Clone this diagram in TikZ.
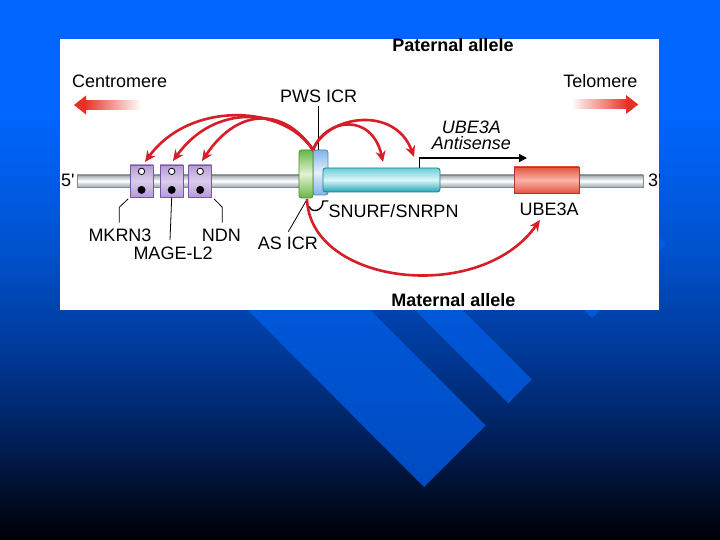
\documentclass[tikz,border=0pt]{standalone}
\usepackage{fontspec}
\setmainfont{Liberation Sans}
\usetikzlibrary{arrows.meta}
\definecolor{bgK}{RGB}{0,0,6}
\definecolor{bg4}{RGB}{0,28,80}
\definecolor{bg3}{RGB}{0,55,148}
\definecolor{bg2}{RGB}{0,82,205}
\definecolor{bg1}{RGB}{0,102,255}
\definecolor{bandtop}{RGB}{0,96,232}
\definecolor{bandbot}{RGB}{0,74,192}
\definecolor{arcred}{RGB}{215,30,40}
\definecolor{cenred}{RGB}{232,48,36}
\definecolor{purp}{RGB}{180,155,212}
\definecolor{purplight}{RGB}{218,204,236}
\definecolor{purpdark}{RGB}{120,88,160}
\definecolor{greenc}{RGB}{105,182,70}
\definecolor{greenlight}{RGB}{228,242,212}
\definecolor{greendark}{RGB}{70,140,50}
\definecolor{bluec}{RGB}{130,180,230}
\definecolor{bluelight}{RGB}{228,240,252}
\definecolor{bluedark}{RGB}{70,130,200}
\definecolor{tealtop}{RGB}{110,205,215}
\definecolor{tealc}{RGB}{30,165,180}
\definecolor{teallight}{RGB}{220,246,248}
\definecolor{tealdark}{RGB}{20,130,145}
\definecolor{redc}{RGB}{228,84,68}
\definecolor{redlight}{RGB}{250,180,165}
\definecolor{reddark}{RGB}{185,50,40}
\definecolor{barc}{RGB}{160,168,176}
\definecolor{bardark}{RGB}{130,138,146}
\pgfdeclareverticalshading{bgshade}{100bp}{color(0bp)=(bgK); color(25bp)=(bgK); color(28.7bp)=(bgK!60!bg4); color(33.3bp)=(bg4); color(41.7bp)=(bg3); color(51.9bp)=(bg2); color(64.8bp)=(bg1); color(100bp)=(bg1)}
\begin{document}
\begin{tikzpicture}[x=1pt,y=-1pt,
  txt/.style={inner sep=0pt, font=\fontsize{18}{20}\selectfont},
  btxt/.style={inner sep=0pt, font=\fontsize{18}{20}\selectfont\bfseries},
  itxt/.style={inner sep=0pt, font=\fontsize{18}{20}\selectfont\itshape},
  lead/.style={draw=black, line width=0.8pt},
  redarc/.style={draw=arcred, line width=2.6pt, -{Stealth[length=11pt,width=10pt]}},
  pbox/.style={draw=purpdark, line width=0.8pt, top color=purp, bottom color=purp, middle color=purplight, minimum width=23pt, minimum height=32pt, inner sep=0pt},
  genebox/.style={line width=0.8pt, inner sep=0pt, rounded corners=2.5pt}
]
\useasboundingbox (0,0) rectangle (720,540);
% background
\shade[shading=bgshade] (0,0) rectangle (720,540);
\path[top color=bandtop, bottom color=bandbot]
  (138,200) -- (260,200) -- (485.5,425.5) -- (424,487) -- cycle
  (305,200) -- (352,200) -- (531.7,379.3) -- (508.3,403.3) -- cycle
  (474,200) -- (622,200) -- (666,244) -- (592,318) -- cycle;
% panel
\fill[white] (60,39) rectangle (659,310);

% chromosome bar
\path[top color=barc, bottom color=barc, middle color=white, draw=bardark, line width=0.3pt] (77,175) rectangle (643,187);

% purple genes
\node[pbox] (mkrn) at (141.5,181) {};
\node[pbox] (mage) at (171.7,181) {};
\node[pbox] (ndn) at (200.2,181) {};
\foreach \g in {mkrn,mage,ndn}{
  \draw[fill=white, line width=0.8pt] (\g.north) ++(0,6.8) circle (3.2);
  \fill[black] (\g.south) ++(0,-7.5) circle (4);
}

% ICR and genes
\node[genebox, draw=bluedark, top color=bluec, bottom color=bluec, middle color=bluelight, minimum width=15pt, minimum height=45pt] (pws) at (320.5,172.5) {};
\node[genebox, draw=tealdark, top color=tealtop, bottom color=tealc, middle color=teallight, minimum width=117pt, minimum height=24pt] (snrpn) at (381.5,180) {};
\node[genebox, draw=greendark, top color=greenc, bottom color=greenc, middle color=greenlight, minimum width=14pt, minimum height=48pt] (asicr) at (306,174) {};
\node[draw=reddark, line width=0.8pt, inner sep=0pt, top color=redc, bottom color=redc, middle color=redlight, minimum width=65pt, minimum height=26pt] (ube) at (546.5,180) {};

% texts
\node[btxt, anchor=base] (pat) at (453,52) {Paternal allele};
\node[btxt, anchor=base] (mat) at (453.3,306.7) {Maternal allele};
\node[txt, anchor=base west] (cen) at (72,88) {Centromere};
\node[txt, anchor=base east] (tel) at (637.5,88) {Telomere};
\node[txt, anchor=base west] (pwslab) at (280,103) {PWS ICR};
\node[itxt, anchor=base west] (asl1) at (441.7,133.3) {UBE3A};
\node[itxt, anchor=base west] (asl2) at (431.7,150) {Antisense};
\node[txt, anchor=base west] (five) at (61,186.7) {5\textquotesingle};
\begin{scope}
\clip (60,39) rectangle (659,310);
\node[txt, anchor=base west] (three) at (648,186.7) {3\textquotesingle};
\end{scope}
\node[txt, anchor=base west] (mkrnl) at (88.3,241) {MKRN3};
\node[txt, anchor=base west] (ndnl) at (201.7,241) {NDN};
\node[txt, anchor=base west] (magel) at (133.3,259.3) {MAGE-L2};
\node[txt, anchor=base west] (asl) at (257.7,249.3) {AS ICR};
\node[txt, anchor=base west] (snl) at (328.3,217.7) {SNURF/SNRPN};
\node[txt, anchor=base west] (ubel) at (519.3,215.3) {UBE3A};

% centromere / telomere arrows
\path[left color=cenred, right color=white] (84,100.5) rectangle (141,109.5);
\fill[cenred] (74,105) -- (86,95.5) -- (86,114.5) -- cycle;
\path[right color=cenred, left color=white] (571,100) rectangle (628,109);
\fill[cenred] (638.3,104.5) -- (626,95) -- (626,114) -- cycle;

% leader lines
\coordinate (pwsleadtop) at (318,106);
\coordinate (icr) at (313,150);
\draw[lead] (pwsleadtop) -- (318,150);
\draw[lead] (mkrn.south west) ++(-1.5,1.5) -- (119.3,207.3) -- (119.3,222.7);
\draw[lead] (mage.south) -- (170,240);
\draw[lead] (ndn.south east) ++(2,1.5) -- (222.3,207.3) -- (222.3,222.7);
\draw[lead] (asicr.south) ++(1,1) -- (288.3,231.7);

% hook
\draw[line width=1.4pt] (328.3,201) -- (323,201) .. controls (323,212) and (311,213) .. (309.3,206.5);

% antisense arrow
\coordinate (tss) at (419.3,168);
\coordinate (asend) at (527,158);
\draw[line width=1.5pt, -{Triangle[length=8pt,width=8pt]}] (tss) |- (asend);

% red arcs
\coordinate (t1) at (145,162);
\coordinate (t2) at (173,161);
\coordinate (t3) at (202,161);
\coordinate (t4) at (383,162);
\coordinate (t5) at (414,157);
\coordinate (icrbot) at (307,199);
\coordinate (t6) at (540,220);
\draw[redarc] (icr) .. controls (285,105) and (190,100) .. (t1);
\draw[redarc] (icr) .. controls (285,108) and (215,102) .. (t2);
\draw[redarc] (icr) .. controls (287,110) and (240,104) .. (t3);
\draw[redarc] (icr) .. controls (325,118) and (372,112) .. (t4);
\draw[redarc] (icr) .. controls (327,115) and (395,105) .. (t5);
\draw[redarc] (icrbot) .. controls (310,285) and (480,305) .. (t6);
\end{tikzpicture}
\end{document}
